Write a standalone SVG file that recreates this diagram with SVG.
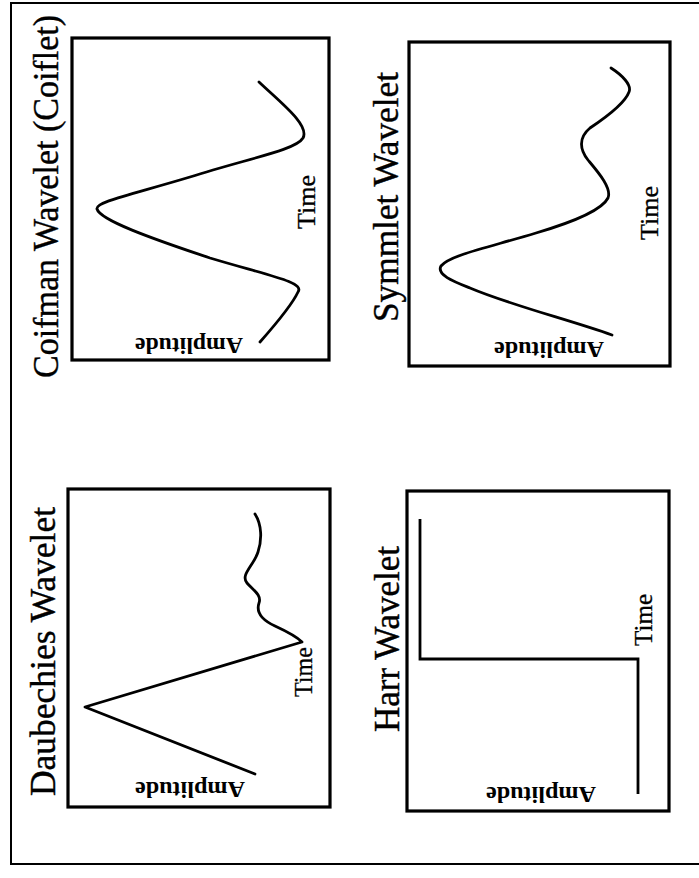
<svg xmlns="http://www.w3.org/2000/svg" width="699" height="878" viewBox="0 0 699 878">
<style>
.frame{fill:none;stroke:#000;stroke-width:2}
.panel{fill:none;stroke:#000;stroke-width:3.2}
.curve{fill:none;stroke:#000;stroke-width:2.8;stroke-linejoin:round;stroke-linecap:round}
.title{font-family:"Liberation Serif","Times New Roman",serif;font-size:35px;fill:#000;text-anchor:middle;stroke:#000;stroke-width:0.4}
.time{font-family:"Liberation Serif","Times New Roman",serif;font-size:25px;fill:#000;text-anchor:middle;stroke:#000;stroke-width:0.3}
.amp{font-family:"Liberation Serif","Times New Roman",serif;font-size:23px;font-weight:bold;fill:#000;text-anchor:middle}
</style>
<rect width="699" height="878" fill="#fff"/>
<path class="frame" d="M699,3 L11,3 L11,864 L699,864"/>

<g id="coifman">
<rect class="panel" x="72" y="38" width="257" height="322"/>
<text class="title" transform="translate(58,196.5) rotate(-90)" textLength="363" lengthAdjust="spacingAndGlyphs">Coifman Wavelet (Coiflet)</text>
<text class="time" transform="translate(315,202) rotate(-90)" textLength="54" lengthAdjust="spacingAndGlyphs">Time</text>
<text class="amp" transform="translate(189,338) rotate(180)" textLength="108" lengthAdjust="spacingAndGlyphs">Amplitude</text>
<path class="curve" d="M259,82 C280,102 310,125 303,138 C296,150 250,158 190,177 C130,195 95,202 97,209 C100,220 150,238 210,258 C270,276 305,282 298,292 C292,305 275,325 260,342"/>
</g>

<g id="symmlet">
<rect class="panel" x="409" y="42" width="261" height="324"/>
<text class="title" transform="translate(398,197) rotate(-90)" textLength="250" lengthAdjust="spacingAndGlyphs">Symmlet Wavelet</text>
<text class="time" transform="translate(658,213) rotate(-90)" textLength="54" lengthAdjust="spacingAndGlyphs">Time</text>
<text class="amp" transform="translate(549,342) rotate(180)" textLength="110" lengthAdjust="spacingAndGlyphs">Amplitude</text>
<path class="curve" d="M611,68 C622,75 632,85 629,92 C625,103 605,118 590,128 C578,138 580,150 588,160 C598,172 612,188 608,198 C603,208 580,220 536,233 C490,247 450,255 441,266 C436,275 455,282 470,288 C510,305 570,320 612,335"/>
</g>

<g id="daubechies">
<rect class="panel" x="68" y="489" width="262" height="318"/>
<text class="title" transform="translate(55,651.5) rotate(-90)" textLength="289" lengthAdjust="spacingAndGlyphs">Daubechies Wavelet</text>
<text class="time" transform="translate(312,672) rotate(-90)" textLength="50" lengthAdjust="spacingAndGlyphs">Time</text>
<text class="amp" transform="translate(190,782) rotate(180)" textLength="110" lengthAdjust="spacingAndGlyphs">Amplitude</text>
<path class="curve" d="M255,514 C262,525 262,540 258,552 C254,565 240,575 247,583 C253,590 262,595 259,603 C256,612 262,620 275,626 C288,632 298,638 302,642 L85,707 L255,774"/>
</g>

<g id="harr">
<rect class="panel" x="407" y="491" width="262" height="320"/>
<text class="title" transform="translate(399,639) rotate(-90)" textLength="186" lengthAdjust="spacingAndGlyphs">Harr Wavelet</text>
<text class="time" transform="translate(652,620) rotate(-90)" textLength="52" lengthAdjust="spacingAndGlyphs">Time</text>
<text class="amp" transform="translate(541,787) rotate(180)" textLength="110" lengthAdjust="spacingAndGlyphs">Amplitude</text>
<path class="curve" d="M420,519 L420,659 L638,659 L638,794" style="stroke-linejoin:miter;stroke-linecap:butt"/>
</g>
</svg>
